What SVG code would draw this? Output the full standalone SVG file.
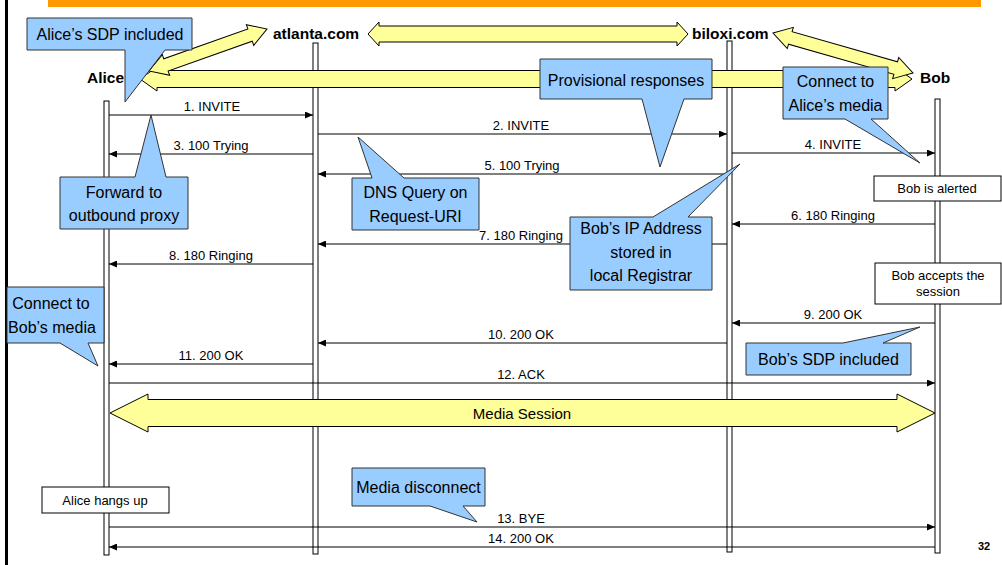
<svg xmlns="http://www.w3.org/2000/svg" width="1002" height="565" viewBox="0 0 1002 565">
<style>
  text { font-family: "Liberation Sans", Arial, sans-serif; fill: #000; }
  .name { font-size: 15.5px; font-weight: bold; }
  .msg { font-size: 13px; text-anchor: middle; }
  .note { font-size: 16px; text-anchor: middle; }
  .box { font-size: 13px; text-anchor: middle; }
  .life { fill: #fff; stroke: #000; stroke-width: 1; }
  .m { stroke: #000; stroke-width: 1; fill: none; marker-end: url(#ah); }
  .ya { fill: #FFFF99; stroke: #000; stroke-width: 1; stroke-linejoin: miter; }
  .co { fill: #99CCFF; stroke: #333; stroke-width: 1; }
  .wb { fill: #fff; stroke: #000; stroke-width: 1; }
</style>
<defs>
  <marker id="ah" markerUnits="userSpaceOnUse" markerWidth="8" markerHeight="7" refX="8" refY="3.5" orient="auto">
    <path d="M0,0 L8,3.5 L0,7 z" fill="#000"/>
  </marker>
</defs>
<rect x="0" y="0" width="1002" height="565" fill="#fff"/>
<rect x="5" y="0" width="3" height="565" fill="#000"/>
<rect x="48" y="0" width="933" height="7" fill="#FF9900"/>

<g id="lifelines">
  <g id="alice">
    <rect class="life" x="104" y="101" width="5" height="454"/>
    <text class="name" x="87" y="83">Alice</text>
  </g>
  <g id="atlanta">
    <rect class="life" x="313" y="43" width="5" height="511"/>
    <text class="name" x="273" y="39">atlanta.com</text>
  </g>
  <g id="biloxi">
    <rect class="life" x="727" y="41" width="5" height="511"/>
    <text class="name" x="692" y="39">biloxi.com</text>
  </g>
  <g id="bob">
    <rect class="life" x="935" y="99" width="5" height="454"/>
    <text class="name" x="920" y="83">Bob</text>
  </g>
</g>

<g id="connectors">
  <line class="m" x1="109" y1="115" x2="313" y2="115"/>
  <text class="msg" x="212" y="111">1. INVITE</text>
  <line class="m" x1="318" y1="134" x2="727" y2="134"/>
  <text class="msg" x="521" y="130">2. INVITE</text>
  <line class="m" x1="313" y1="154" x2="109" y2="154"/>
  <text class="msg" x="211" y="150">3. 100 Trying</text>
  <line class="m" x1="732" y1="153" x2="935" y2="153"/>
  <text class="msg" x="833" y="149">4. INVITE</text>
  <line class="m" x1="727" y1="174" x2="318" y2="174"/>
  <text class="msg" x="522" y="170">5. 100 Trying</text>
  <line class="m" x1="935" y1="224" x2="732" y2="224"/>
  <text class="msg" x="833" y="220">6. 180 Ringing</text>
  <line class="m" x1="727" y1="244" x2="318" y2="244"/>
  <text class="msg" x="521" y="240">7. 180 Ringing</text>
  <line class="m" x1="313" y1="264" x2="109" y2="264"/>
  <text class="msg" x="211" y="260">8. 180 Ringing</text>
  <line class="m" x1="935" y1="323" x2="732" y2="323"/>
  <text class="msg" x="833" y="319">9. 200 OK</text>
  <line class="m" x1="727" y1="343" x2="318" y2="343"/>
  <text class="msg" x="521" y="339">10. 200 OK</text>
  <line class="m" x1="313" y1="364" x2="109" y2="364"/>
  <text class="msg" x="211" y="360">11. 200 OK</text>
  <line class="m" x1="109" y1="383" x2="935" y2="383"/>
  <text class="msg" x="521" y="379">12. ACK</text>
  <line class="m" x1="109" y1="527" x2="935" y2="527"/>
  <text class="msg" x="521" y="523">13. BYE</text>
  <line class="m" x1="935" y1="547" x2="109" y2="547"/>
  <text class="msg" x="521" y="543">14. 200 OK</text>
</g>

<g id="signaling-arrows">
  <polygon class="ya" points="368,34 379,22 379,26 677,26 677,22 688,34 677,46 677,42 379,42 379,46"/>
  <polygon class="ya" points="140,79 157,67 157,70.5 895,70.5 895,67 912,79 895,91 895,87.5 157,87.5 157,91"/>
  <g transform="translate(149,71) rotate(-19.59)">
    <polygon class="ya" points="0,0 18,-11 18,-6.5 107.25,-6.5 107.25,-11 125.25,0 107.25,11 107.25,6.5 18,6.5 18,11"/>
  </g>
  <g transform="translate(773,33) rotate(15.95)">
    <polygon class="ya" points="0,0 18,-11 18,-6.5 127.6,-6.5 127.6,-11 145.6,0 127.6,11 127.6,6.5 18,6.5 18,11"/>
  </g>
</g>

<g id="media-session">
  <polygon class="ya" points="110,413 148,394 148,399.5 897,399.5 897,394 935,413 897,432 897,426.5 148,426.5 148,432"/>
  <text x="522" y="419" style="font-size:15px;text-anchor:middle">Media Session</text>
</g>

<g id="box-bob-alerted">
  <rect class="wb" x="874" y="176" width="127" height="25"/>
  <text class="box" x="937" y="193">Bob is alerted</text>
</g>
<g id="box-bob-accepts">
  <rect class="wb" x="875" y="263" width="126" height="41"/>
  <text class="box" x="938" y="280">Bob accepts the</text>
  <text class="box" x="938" y="296">session</text>
</g>
<g id="box-alice-hangs">
  <rect class="wb" x="42" y="487" width="127" height="26"/>
  <text class="box" x="105" y="505">Alice hangs up</text>
</g>

<g id="note-alice-sdp">
  <polygon class="co" points="27,18 192,18 192,50 165,50 125,102 125,50 27,50"/>
  <text class="note" x="110" y="40">Alice’s SDP included</text>
</g>
<g id="note-forward">
  <polygon class="co" points="60,177 135,177 151,115 166,177 188,177 188,229 60,229"/>
  <text class="note" x="124" y="198">Forward to</text>
  <text class="note" x="124" y="221">outbound proxy</text>
</g>
<g id="note-dns">
  <polygon class="co" points="352,178 372,178 358,137 404,178 479,178 479,230 352,230"/>
  <text class="note" x="415.5" y="198">DNS Query on</text>
  <text class="note" x="415.5" y="222">Request-URI</text>
</g>
<g id="note-provisional">
  <polygon class="co" points="540,59 712,59 712,99 684,99 660,167 642,99 540,99"/>
  <text class="note" x="626" y="86">Provisional responses</text>
</g>
<g id="note-connect-alice">
  <polygon class="co" points="783,67 888,67 888,119 871,119 920,163 845,119 783,119"/>
  <text class="note" x="835.5" y="87">Connect to</text>
  <text class="note" x="835.5" y="111">Alice’s media</text>
</g>
<g id="note-bob-ip">
  <polygon class="co" points="570,217 653,217 740,164 688,217 712,217 712,290 570,290"/>
  <text class="note" x="641" y="234">Bob’s IP Address</text>
  <text class="note" x="641" y="258">stored in</text>
  <text class="note" x="641" y="281">local Registrar</text>
</g>
<g id="note-connect-bob">
  <polygon class="co" points="7,287 104,287 104,343 88,343 98,366 60,343 7,343"/>
  <text class="note" x="51" y="309">Connect to</text>
  <text class="note" x="52" y="333">Bob’s media</text>
</g>
<g id="note-bob-sdp">
  <polygon class="co" points="746,343 843,343 920,327 883,343 911,343 911,375 746,375"/>
  <text class="note" x="828.5" y="365">Bob’s SDP included</text>
</g>
<g id="note-media-disconnect">
  <polygon class="co" points="352,468 485,468 485,506 463,506 477,522 430,506 352,506"/>
  <text class="note" x="418.5" y="493">Media disconnect</text>
</g>

<text x="984" y="550" style="font-size:11px;font-weight:bold;text-anchor:middle">32</text>
</svg>
